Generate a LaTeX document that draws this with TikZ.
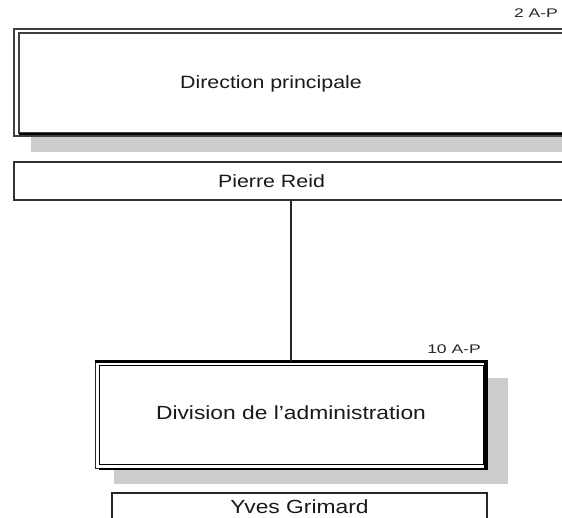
\documentclass[tikz,border=0pt]{standalone}
\usepackage{fontspec}
\setmainfont[FakeStretch=1.2]{Liberation Sans}
\newfontfamily\tagfont[FakeStretch=1.4]{Liberation Sans}
\usetikzlibrary{positioning}
\tikzset{unit box/.style={draw=black!85,fill=white,line width=1pt,inner sep=0pt},}
\tikzstyle{tag} = [font=\tagfont\fontsize{12.5}{14}\selectfont,text=black!85,inner sep=0pt,anchor=base]
\tikzstyle{title} = [font=\fontsize{17.8}{20}\selectfont,text=black!90,inner sep=0pt,anchor=base]
\tikzstyle{shade} = [fill=black!20]

\begin{document}
\begin{tikzpicture}[x=1pt,y=-1pt]
    \useasboundingbox (0,0) rectangle (562,518);
    \clip (0,0) rectangle (562,518);
    % direction principale
    \fill[shade] (31,137) rectangle (600,152);
    \draw[black!75, line width=1.3pt] (14,29) rectangle (600,136);
    \draw[black!75, line width=1.3pt] (19,33) rectangle (600,133);
    \draw[black, line width=2.5pt] (19,134) -- (600,134);
    \node[title] (direction) at (271,89) {Direction principale};
    \node[tag] (tagtop) at (536,18) {2 A-P};
    % pierre reid
    \draw[black!80, line width=1.4pt] (14,162) rectangle (600,200);
    \coordinate (pierrebot) at (14,200);
    \node[title] (pierre) at (271.5,188) {Pierre Reid};
    % division de l'administration
    \fill[shade] (114,378) rectangle (508,484);
    \node[unit box, minimum width=392pt, minimum height=106pt,
          font=\fontsize{19}{22}\selectfont, text=black!90,
          text height=13.6pt, text depth=5.6pt] (division) at (291,415)
          {Division de l'administration};
    \draw[black, line width=0.9pt]
        ([xshift=5pt,yshift=-4pt]division.north west) rectangle
        ([xshift=-4pt,yshift=4pt]division.south east);
    \draw[black, line width=3pt]
        (division.north west) -- (division.north east);
    \draw[black, line width=4pt]
        ([xshift=-2pt]division.north east) -- ([xshift=-2pt]division.south east);
    \draw[black, line width=2pt]
        ([xshift=4pt]division.south west) -- (division.south east);
    \node[tag] (tagdiv) at (454,353) {10 A-P};
    \draw[black!85, line width=1.3pt] (division.north |- pierrebot) -- (division.north);
    % yves grimard
    \node[unit box, line width=1.4pt, minimum width=375pt, minimum height=38pt,
          font=\fontsize{19}{22}\selectfont, text=black!90,
          text height=13.6pt, text depth=11.6pt] (yves) at (299.5,512)
          {Yves Grimard};
\end{tikzpicture}
\end{document}
